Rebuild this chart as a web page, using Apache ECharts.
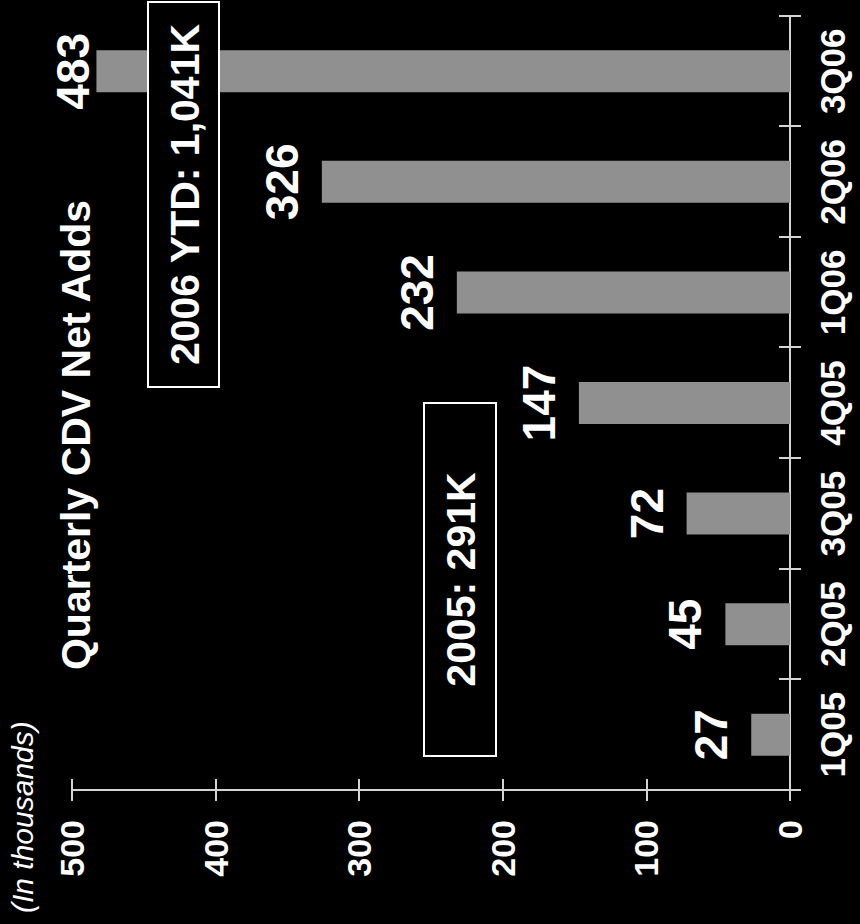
<!DOCTYPE html>
<html>
<head>
<meta charset="utf-8">
<title>Quarterly CDV Net Adds</title>
<script src="https://cdn.jsdelivr.net/npm/echarts@6/dist/echarts.min.js"></script>
<style>
  html, body { margin: 0; padding: 0; background: #000; width: 860px; height: 924px; overflow: hidden; }
  /* The chart is laid out landscape (924 x 860) and turned a quarter turn counter-clockwise. */
  #chart {
    position: absolute; left: 0; top: 0;
    width: 924px; height: 860px;
    transform-origin: 0 0;
    transform: translateY(924px) rotate(-90deg);
  }
</style>
</head>
<body>
<div id="chart"></div>
<script>
// Quarterly net additions, in thousands
const quarters = ['1Q05', '2Q05', '3Q05', '4Q05', '1Q06', '2Q06', '3Q06'];
const netAdds = [27, 45, 72, 147, 232, 326, 483];
const valueTicks = [0, 100, 200, 300, 400, 500];
const chartTitle = 'Quarterly CDV Net Adds';
const unitNote = '(In thousands)';
const total2005 = '2005: 291K';
const total2006 = '2006 YTD: 1,041K';

const FONT = '"Liberation Sans", Arial, Helvetica, sans-serif';
const AXIS_COLOR = '#d4d4d4';
const BAR_COLOR = '#909090';

const chart = echarts.init(document.getElementById('chart'), null, {
  renderer: 'svg', width: 924, height: 860
});

const vMin = valueTicks[0];
const vMax = valueTicks[valueTicks.length - 1];
const vStep = valueTicks[1] - valueTicks[0];
const peak = Math.max(...netAdds);

// the tallest bar keeps its label snug against the top of the bar
const barData = netAdds.map(v => v === peak ? { value: v, label: { distance: 0 } } : v);

// framed running total, drawn over the bars
function totalBox(x, y, w, h, text) {
  return {
    type: 'group',
    z: 100,
    children: [
      { type: 'rect', z: 100, shape: { x, y, width: w, height: h },
        style: { fill: '#000', stroke: '#ffffff', lineWidth: 2 } },
      { type: 'text', z: 101, x: x + w / 2, y: y + h / 2 + 1,
        style: { text, fill: '#fff', font: 'bold 41px ' + FONT, align: 'center', verticalAlign: 'middle' } }
    ]
  };
}

chart.setOption({
  backgroundColor: '#000',
  animation: false,
  grid: { left: 134, right: 16, top: 72, bottom: 70 },
  xAxis: [
    {
      type: 'category', data: quarters, position: 'bottom',
      axisLine: { show: true, lineStyle: { color: AXIS_COLOR, width: 2 } },
      axisTick: { show: true, inside: false, length: 11, alignWithLabel: false, lineStyle: { color: AXIS_COLOR, width: 2 } },
      axisLabel: { interval: 0, color: '#fff', fontFamily: FONT, fontWeight: 'bold', fontSize: 35, margin: 25 }
    },
    {
      type: 'category', data: quarters, position: 'bottom',
      axisLine: { show: false },
      axisTick: { show: true, inside: true, length: 11, alignWithLabel: false, lineStyle: { color: AXIS_COLOR, width: 2 } },
      axisLabel: { show: false }
    }
  ],
  yAxis: [
    {
      type: 'value', min: vMin, max: vMax, interval: vStep, position: 'left',
      splitLine: { show: false },
      axisLine: { show: true, lineStyle: { color: AXIS_COLOR, width: 2 } },
      axisTick: { show: true, inside: false, length: 11, lineStyle: { color: AXIS_COLOR, width: 2 } },
      axisLabel: { color: '#fff', fontFamily: FONT, fontWeight: 'bold', fontSize: 34, margin: 30 }
    },
    {
      type: 'value', min: vMin, max: vMax, interval: vStep, position: 'left',
      splitLine: { show: false },
      axisLine: { show: false },
      axisTick: { show: true, inside: true, length: 11, lineStyle: { color: AXIS_COLOR, width: 2 } },
      axisLabel: { show: false }
    }
  ],
  series: [{
    type: 'bar',
    xAxisIndex: 0, yAxisIndex: 0,
    data: barData,
    barWidth: 42,
    itemStyle: { color: BAR_COLOR },
    label: {
      show: true, position: 'top', distance: 17,
      color: '#fff', fontFamily: FONT, fontWeight: 'bold', fontSize: 46
    }
  }],
  graphic: [
    { type: 'text', z: 100, x: 489, y: 55,
      style: { text: chartTitle, fill: '#fff', font: 'bold 41px ' + FONT, align: 'center', verticalAlign: 'top' } },
    { type: 'text', z: 100, x: 11, y: 7,
      style: { text: unitNote, fill: '#fff', font: 'italic 30px ' + FONT, align: 'left', verticalAlign: 'top' } },
    totalBox(168, 424, 353, 72, total2005),
    totalBox(537, 148, 385, 71, total2006)
  ]
});
</script>
</body>
</html>
